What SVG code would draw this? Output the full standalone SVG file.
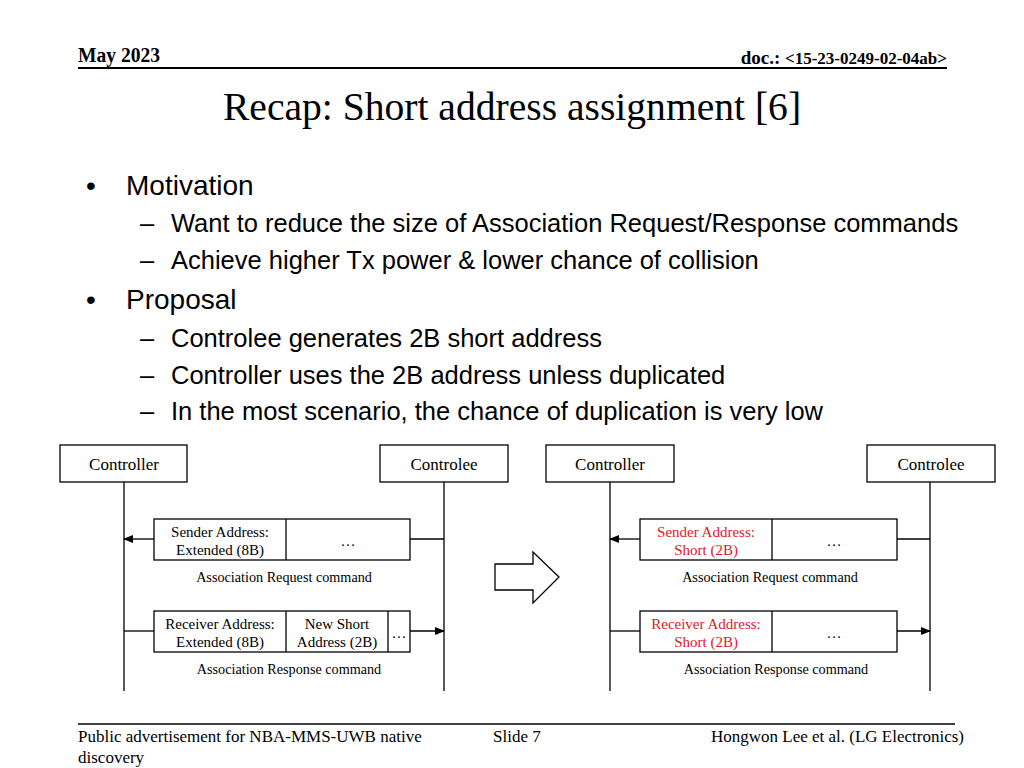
<svg xmlns="http://www.w3.org/2000/svg" width="1024" height="768" viewBox="0 0 1024 768">
<defs>
<style>
.serif{font-family:"Liberation Serif","Times New Roman",serif;fill:#000}
.sans{font-family:"Liberation Sans",Arial,sans-serif;fill:#000}
.box{fill:#fff;stroke:#000;stroke-width:1.3}
.ln{stroke:#000;stroke-width:1.3;fill:none}
.lbl{font-family:"Liberation Serif","Times New Roman",serif;font-size:15px;text-anchor:middle;fill:#000}
.cap{font-family:"Liberation Serif","Times New Roman",serif;font-size:14.2px;text-anchor:middle;fill:#000}
.red{fill:#e0191e}
.node{font-family:"Liberation Serif","Times New Roman",serif;font-size:17px;text-anchor:middle;fill:#000}
.b1{font-size:28px}
.b2{font-size:25.5px}
</style>
<marker id="ah" markerWidth="10" markerHeight="8" refX="9" refY="4" orient="auto" markerUnits="userSpaceOnUse">
<path d="M0,0 L10,4 L0,8 Z" fill="#000"/>
</marker>
</defs>
<rect width="1024" height="768" fill="#fff"/>

<!-- header -->
<text x="78" y="62" class="serif" font-size="20" font-weight="bold" textLength="82" lengthAdjust="spacingAndGlyphs">May 2023</text>
<text x="947" y="64" class="serif" font-weight="bold" text-anchor="end"><tspan font-size="19">doc.: </tspan><tspan font-size="17">&lt;15-23-0249-02-04ab&gt;</tspan></text>
<line x1="78" y1="68" x2="947" y2="68" stroke="#000" stroke-width="2"/>

<text x="512" y="120" class="serif" font-size="39.6" text-anchor="middle">Recap: Short address assignment [6]</text>

<!-- bullets -->
<g class="sans">
<text x="86" y="195" class="b1">•</text>
<text x="126" y="195" class="b1">Motivation</text>
<text x="140" y="232" class="b2">–</text>
<text x="171" y="232" class="b2">Want to reduce the size of Association Request/Response commands</text>
<text x="140" y="269" class="b2">–</text>
<text x="171" y="269" class="b2">Achieve higher Tx power &amp; lower chance of collision</text>
<text x="86" y="309" class="b1">•</text>
<text x="126" y="309" class="b1">Proposal</text>
<text x="140" y="347" class="b2">–</text>
<text x="171" y="347" class="b2">Controlee generates 2B short address</text>
<text x="140" y="384" class="b2">–</text>
<text x="171" y="384" class="b2">Controller uses the 2B address unless duplicated</text>
<text x="140" y="420" class="b2">–</text>
<text x="171" y="420" class="b2">In the most scenario, the chance of duplication is very low</text>
</g>

<!-- nodes -->
<g id="controller-left"><rect x="60" y="445" width="127" height="37" class="box"/><text x="124" y="470" class="node">Controller</text></g>
<g id="controlee-left"><rect x="380" y="445" width="128" height="37" class="box"/><text x="444" y="470" class="node">Controlee</text></g>
<g id="controller-right"><rect x="546" y="445" width="128" height="37" class="box"/><text x="610" y="470" class="node">Controller</text></g>
<g id="controlee-right"><rect x="867" y="445" width="128" height="37" class="box"/><text x="931" y="470" class="node">Controlee</text></g>

<!-- connectors -->
<g id="connectors">
<line x1="124" y1="482" x2="124" y2="691" class="ln"/>
<line x1="444" y1="482" x2="444" y2="691" class="ln"/>
<line x1="610" y1="482" x2="610" y2="691" class="ln"/>
<line x1="930" y1="482" x2="930" y2="691" class="ln"/>
<line x1="444" y1="539" x2="410" y2="539" class="ln"/>
<line x1="154" y1="539" x2="124" y2="539" class="ln" marker-end="url(#ah)"/>
<line x1="124" y1="631" x2="154" y2="631" class="ln"/>
<line x1="410" y1="631" x2="444" y2="631" class="ln" marker-end="url(#ah)"/>
<line x1="930" y1="539" x2="897" y2="539" class="ln"/>
<line x1="640" y1="539" x2="610" y2="539" class="ln" marker-end="url(#ah)"/>
<line x1="610" y1="631" x2="640" y2="631" class="ln"/>
<line x1="897" y1="631" x2="930" y2="631" class="ln" marker-end="url(#ah)"/>
</g>

<!-- left request packet -->
<g id="req-left">
<rect x="154" y="519" width="256" height="41" class="box"/>
<line x1="286" y1="519" x2="286" y2="560" class="ln"/>
<text x="220" y="537" class="lbl">Sender Address:</text>
<text x="220" y="555" class="lbl">Extended (8B)</text>
<text x="348" y="546" class="lbl">…</text>
<text x="284" y="582" class="cap">Association Request command</text>
</g>
<g id="resp-left">
<rect x="154" y="611" width="256" height="41" class="box"/>
<line x1="286" y1="611" x2="286" y2="652" class="ln"/>
<line x1="388" y1="611" x2="388" y2="652" class="ln"/>
<text x="220" y="629" class="lbl">Receiver Address:</text>
<text x="220" y="647" class="lbl">Extended (8B)</text>
<text x="337" y="629" class="lbl">New Short</text>
<text x="337" y="647" class="lbl">Address (2B)</text>
<text x="399" y="638" class="lbl">…</text>
<text x="289" y="674" class="cap">Association Response command</text>
</g>

<!-- block arrow -->
<g id="block-arrow">
<path d="M495,564 L533,564 L533,552 L559,577 L533,603 L533,590 L495,590 Z" fill="#fff" stroke="#000" stroke-width="1.3"/>
</g>

<!-- right packets -->
<g id="req-right">
<rect x="640" y="519" width="257" height="41" class="box"/>
<line x1="772" y1="519" x2="772" y2="560" class="ln"/>
<text x="706" y="537" class="lbl red">Sender Address:</text>
<text x="706" y="555" class="lbl red">Short (2B)</text>
<text x="834" y="546" class="lbl">…</text>
<text x="770" y="582" class="cap">Association Request command</text>
</g>
<g id="resp-right">
<rect x="640" y="611" width="257" height="41" class="box"/>
<line x1="772" y1="611" x2="772" y2="652" class="ln"/>
<text x="706" y="629" class="lbl red">Receiver Address:</text>
<text x="706" y="647" class="lbl red">Short (2B)</text>
<text x="834" y="638" class="lbl">…</text>
<text x="776" y="674" class="cap">Association Response command</text>
</g>

<!-- footer -->
<line x1="78" y1="724" x2="955" y2="724" stroke="#000" stroke-width="1.5"/>
<text x="78" y="742" class="serif" font-size="17">Public advertisement for NBA-MMS-UWB native</text>
<text x="78" y="763" class="serif" font-size="17">discovery</text>
<text x="493" y="742" class="serif" font-size="17">Slide 7</text>
<text x="964" y="742" class="serif" font-size="17" text-anchor="end">Hongwon Lee et al. (LG Electronics)</text>
</svg>
